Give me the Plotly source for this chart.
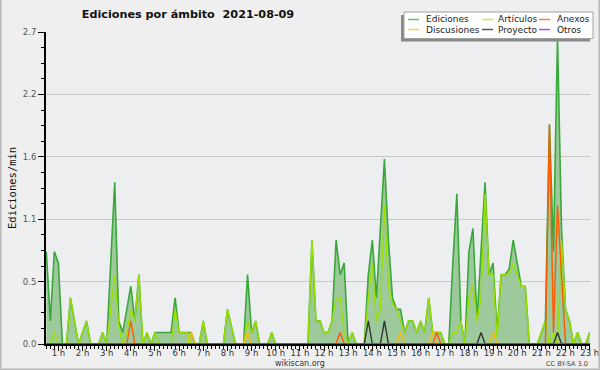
import plotly.graph_objects as go

# ---------------- data (10-minute slots, first slot at 00:30) ----------------
slot_start_min = 30
slot_minutes = 10

ediciones = [
    0.8, 0.2, 0.8, 0.7, 0, 0,
    0.4, 0.2, 0, 0.1, 0.2, 0,
    0, 0, 0.1, 0, 0.7, 1.4,
    0.2, 0.1, 0.3, 0.5, 0.2, 0.6,
    0, 0.1, 0, 0.1, 0.1, 0.1,
    0.1, 0.1, 0.4, 0.1, 0.1, 0.1,
    0.1, 0, 0, 0.2, 0, 0,
    0, 0, 0, 0.3, 0.15, 0,
    0, 0, 0.6, 0.1, 0.2, 0,
    0, 0, 0.1, 0, 0, 0,
    0, 0, 0, 0, 0, 0,
    0.9, 0.2, 0.2, 0.1, 0.1, 0.2,
    0.9, 0.6, 0.7, 0, 0.1, 0,
    0, 0, 0.6, 0.9, 0.4, 1.0,
    1.6, 0.9, 0.4, 0.3, 0.3, 0.1,
    0.2, 0.2, 0.1, 0.2, 0.1, 0.4,
    0.1, 0.1, 0.1, 0, 0, 0.7,
    1.3, 0.2, 0, 0.8, 1.0, 0.2,
    0.8, 1.4, 0.6, 0.7, 0.1, 0.6,
    0.6, 0.65, 0.9, 0.7, 0.5, 0.5,
    0, 0, 0, 0.1, 0.2, 1.9,
    0.8, 2.65, 1.0, 0.3, 0.2, 0,
    0.1, 0, 0, 0.1,
]

articulos = [
    0, 0, 0.1, 0, 0, 0,
    0.4, 0.2, 0, 0.1, 0.2, 0,
    0, 0, 0.1, 0, 0.3, 0.6,
    0.15, 0, 0.1, 0.3, 0.2, 0.6,
    0, 0.1, 0, 0.1, 0, 0,
    0, 0, 0.3, 0.1, 0.1, 0.1,
    0, 0, 0, 0.2, 0, 0,
    0, 0, 0, 0.3, 0.15, 0,
    0, 0, 0.2, 0.1, 0.2, 0,
    0, 0, 0.1, 0, 0, 0,
    0, 0, 0, 0, 0, 0,
    0.9, 0.2, 0.2, 0.1, 0.1, 0.2,
    0.4, 0.4, 0.1, 0, 0.1, 0,
    0, 0, 0.4, 0.7, 0.2, 0.3,
    1.2, 0.5, 0.35, 0.3, 0.2, 0.1,
    0.2, 0.2, 0.1, 0.2, 0.1, 0.4,
    0.1, 0.1, 0.1, 0, 0, 0.1,
    0.1, 0.2, 0, 0.4, 0.5, 0.2,
    0.4, 1.3, 0.6, 0.6, 0.05, 0.6,
    0.6, 0.6, 0.7, 0.6, 0.5, 0.5,
    0, 0, 0, 0.1, 0.2, 0,
    0.1, 0, 0.9, 0.3, 0.2, 0,
    0.1, 0, 0, 0.1,
]

anexos = [
    0, 0, 0, 0, 0, 0,
    0, 0, 0, 0, 0, 0,
    0, 0, 0, 0, 0, 0,
    0, 0, 0, 0.2, 0, 0,
    0, 0, 0, 0, 0, 0,
    0, 0, 0, 0, 0, 0,
    0, 0, 0, 0, 0, 0,
    0, 0, 0, 0, 0, 0,
    0, 0, 0, 0, 0, 0,
    0, 0, 0, 0, 0, 0,
    0, 0, 0, 0, 0, 0,
    0, 0, 0, 0, 0, 0,
    0, 0.1, 0, 0, 0, 0,
    0, 0, 0, 0, 0, 0,
    0, 0, 0, 0, 0, 0,
    0, 0, 0, 0, 0, 0,
    0, 0.1, 0, 0, 0, 0,
    0, 0, 0, 0, 0, 0,
    0, 0, 0, 0, 0, 0,
    0, 0, 0, 0, 0, 0,
    0, 0, 0, 0, 0, 1.9,
    0.1, 1.2, 0.55, 0, 0, 0,
    0, 0, 0, 0,
]

discusiones = [
    0, 0, 0, 0, 0, 0,
    0, 0, 0, 0, 0, 0,
    0, 0, 0, 0, 0, 0,
    0, 0, 0, 0, 0, 0,
    0, 0, 0, 0, 0, 0,
    0, 0, 0, 0, 0, 0,
    0.1, 0, 0, 0, 0, 0,
    0, 0, 0, 0, 0, 0,
    0, 0, 0.1, 0, 0, 0,
    0, 0, 0, 0, 0, 0,
    0, 0, 0, 0, 0, 0,
    0, 0, 0, 0, 0, 0,
    0, 0, 0, 0, 0, 0,
    0, 0, 0, 0, 0, 0,
    0, 0, 0, 0, 0.1, 0,
    0, 0, 0, 0, 0, 0,
    0.1, 0, 0, 0, 0, 0,
    0, 0, 0, 0, 0, 0,
    0, 0, 0, 0.1, 0, 0,
    0, 0, 0, 0, 0, 0,
    0, 0, 0, 0, 0, 0,
    0, 0, 0, 0, 0, 0,
    0, 0, 0, 0,
]

proyecto = [
    0, 0, 0, 0, 0, 0,
    0, 0, 0, 0, 0, 0,
    0, 0, 0, 0, 0, 0,
    0, 0, 0, 0, 0, 0,
    0, 0, 0, 0, 0, 0,
    0, 0, 0, 0, 0, 0,
    0, 0, 0, 0, 0, 0,
    0, 0, 0, 0, 0, 0,
    0, 0, 0, 0, 0, 0,
    0, 0, 0, 0, 0, 0,
    0, 0, 0, 0, 0, 0,
    0, 0, 0, 0, 0, 0,
    0, 0, 0, 0, 0, 0,
    0, 0, 0.2, 0, 0, 0,
    0.2, 0, 0, 0, 0, 0,
    0, 0, 0, 0, 0, 0,
    0, 0, 0, 0, 0, 0,
    0, 0, 0, 0, 0, 0,
    0.1, 0, 0, 0, 0, 0,
    0, 0, 0, 0, 0, 0,
    0, 0, 0, 0, 0, 0,
    0, 0.1, 0, 0, 0, 0,
    0, 0, 0, 0,
]

otros = [
    0, 0, 0, 0, 0, 0, 0, 0, 0, 0, 0, 0, 0, 0, 0, 0, 0, 0, 0, 0, 0, 0, 0, 0,
    0, 0, 0, 0, 0, 0, 0, 0, 0, 0, 0, 0, 0, 0, 0, 0, 0, 0, 0, 0, 0, 0, 0, 0,
    0, 0, 0, 0, 0, 0, 0, 0, 0, 0, 0, 0, 0, 0, 0, 0, 0, 0, 0, 0, 0, 0, 0, 0,
    0, 0, 0, 0, 0, 0, 0, 0, 0, 0, 0, 0, 0, 0, 0, 0, 0, 0, 0, 0, 0, 0, 0, 0,
    0, 0, 0, 0, 0, 0, 0, 0, 0, 0, 0, 0, 0, 0, 0, 0, 0, 0, 0, 0, 0, 0, 0, 0,
    0, 0, 0, 0, 0, 0, 0, 0, 0, 0, 0, 0, 0, 0, 0, 0,
]

hour_ticks = list(range(1, 24))
hour_labels = [f"{h} h" for h in hour_ticks]
y_ticks = [0, 0.54, 1.08, 1.62, 2.16, 2.7]
y_labels = ["0.0", "0.5", "1.1", "1.6", "2.2", "2.7"]

series_names = ["Ediciones", "Artículos", "Anexos", "Discusiones", "Proyecto", "Otros"]
series_colors = ["#3aa83a", "#9be000", "#ff5a00", "#ffc000", "#333333", "#9933ee"]
legend_colors = ["#66c466", "#c8ee40", "#ff7a40", "#ffd040", "#555555", "#a050f0"]

# ---------------- figure ----------------
hours = [(slot_start_min + i * slot_minutes) / 60 for i in range(len(ediciones))]

fig = go.Figure()
fig.add_trace(go.Scatter(x=hours, y=ediciones, mode="lines", name="Ediciones",
                         line=dict(color=series_colors[0], width=1.6),
                         fill="tozeroy", fillcolor="#9dc99d"))
for name, vals, col in [("Artículos", articulos, series_colors[1]),
                        ("Discusiones", discusiones, series_colors[3]),
                        ("Anexos", anexos, series_colors[2]),
                        ("Proyecto", proyecto, series_colors[4]),
                        ("Otros", otros[:len(hours)], series_colors[5])]:
    fig.add_trace(go.Scatter(x=hours, y=vals, mode="lines", name=name,
                             line=dict(color=col, width=1.4)))

W, H = 600, 370
L, R, T, B = 46, 10, 32, 26
pw, ph = W - L - R, H - T - B


def px(x):
    return (x - L) / pw


def py(y):
    return (H - B - y) / ph


shapes = []
annotations = []

# outer frame (left, bottom, right)
shapes.append(dict(type="path", xref="paper", yref="paper",
                   path=f"M {px(0.75)},{py(0)} L {px(0.75)},{py(369.25)} L {px(599.25)},{py(369.25)} L {px(599.25)},{py(0)}",
                   line=dict(color="#b8b8b8", width=1.5), layer="above"))

# legend box with shadow
shapes.append(dict(type="rect", xref="paper", yref="paper",
                   x0=px(401), x1=px(590), y0=py(41.5), y1=py(15),
                   fillcolor="#8a8a8a", line=dict(width=0), layer="above"))
shapes.append(dict(type="rect", xref="paper", yref="paper",
                   x0=px(404), x1=px(593), y0=py(38.5), y1=py(12),
                   fillcolor="#ffffff", line=dict(color="#a0a0a0", width=1), layer="above"))

col_sw = [(408, 419), (482, 493), (539, 550)]
col_tx = [424, 496, 555]
rows_y = [19.5, 29.5]
legend_layout = [("Ediciones", 0, 0, 0), ("Artículos", 1, 0, 1), ("Anexos", 2, 0, 2),
                 ("Discusiones", 3, 1, 0), ("Proyecto", 4, 1, 1), ("Otros", 5, 1, 2)]
for name, si, r, c in legend_layout:
    shapes.append(dict(type="line", xref="paper", yref="paper",
                       x0=px(col_sw[c][0]), x1=px(col_sw[c][1]),
                       y0=py(rows_y[r]), y1=py(rows_y[r]),
                       line=dict(color=legend_colors[si], width=1.5), layer="above"))
    annotations.append(dict(text=name, xref="paper", yref="paper",
                            x=px(col_tx[c]), y=py(rows_y[r]), xanchor="left", yanchor="middle",
                            showarrow=False,
                            font=dict(family="DejaVu Sans", size=9, color="#222222")))

# y-axis title
annotations.append(dict(text="Ediciones/min", xref="paper", yref="paper",
                        x=px(12), y=py(188), textangle=-90, showarrow=False,
                        xanchor="center", yanchor="middle",
                        font=dict(family="DejaVu Sans Mono", size=10.5, color="#111111")))
# footer texts
annotations.append(dict(text="wikiscan.org", xref="paper", yref="paper",
                        x=px(300), y=py(363), showarrow=False, xanchor="center", yanchor="middle",
                        font=dict(family="DejaVu Sans", size=8, color="#333333")))
annotations.append(dict(text="CC BY-SA 3.0", xref="paper", yref="paper",
                        x=px(590), y=py(363.5), showarrow=False, xanchor="right", yanchor="middle",
                        font=dict(family="DejaVu Sans", size=6.5, color="#444444")))

fig.update_layout(
    width=W, height=H,
    margin=dict(l=L, r=R, t=T, b=B, pad=0, autoexpand=False),
    paper_bgcolor="#efefef",
    plot_bgcolor="#eceef0",
    showlegend=False,
    title=dict(text="Ediciones por ámbito\u00a0 2021-08-09", x=188 / W, xanchor="center",
               y=1 - 14 / H, yanchor="middle", automargin=False,
               font=dict(family="DejaVu Sans", size=11.2, color="#111111", weight="bold")),
    shapes=shapes,
    annotations=annotations,
)

fig.update_xaxes(
    range=[0.4875, 23.013], showgrid=False, zeroline=False, automargin=False,
    showline=True, linecolor="black", linewidth=2,
    tickmode="array", tickvals=hour_ticks, ticktext=hour_labels,
    ticks="outside", ticklen=5, tickwidth=1, tickcolor="black",
    tickfont=dict(family="DejaVu Sans", size=8.5, color="#333333"),
    ticklabelstandoff=-5,
    minor=dict(dtick=1 / 6, tick0=0, ticks="outside", ticklen=3, tickwidth=1,
               tickcolor="black", showgrid=False),
)
fig.update_yaxes(
    range=[0, 2.7], zeroline=False, automargin=False,
    showline=True, linecolor="black", linewidth=2,
    tickmode="array", tickvals=y_ticks, ticktext=y_labels,
    showgrid=True, gridcolor="#c8c8c8", gridwidth=1,
    ticks="outside", ticklen=6, tickwidth=1, tickcolor="black",
    tickfont=dict(family="DejaVu Sans", size=8.5, color="#555555"),
    minor=dict(dtick=0.135, tick0=0, ticks="outside", ticklen=3, tickwidth=1,
               tickcolor="black", showgrid=False),
)

fig.write_html("out.html", config={"responsive": False, "displayModeBar": False},
               post_script="document.body.style.margin='0';document.body.style.overflow='hidden';")
